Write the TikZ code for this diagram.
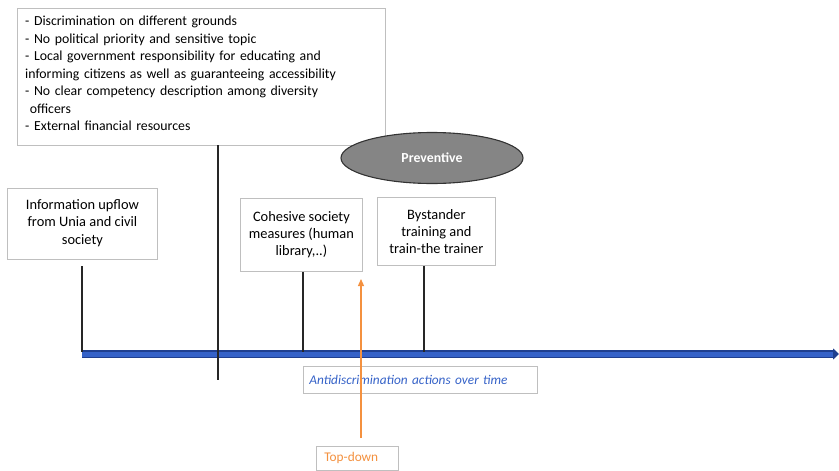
\documentclass[tikz,border=0pt]{standalone}
\usepackage{fontspec}
\setmainfont{Carlito}
\usetikzlibrary{arrows.meta,shapes.geometric}
\definecolor{boxgray}{HTML}{BFBFBF}
\definecolor{axisblue}{HTML}{3562C8}
\definecolor{axisdark}{HTML}{1F3F8F}
\definecolor{topdown}{HTML}{F4913F}
\definecolor{ovalfill}{HTML}{858585}
\begin{document}
\begin{tikzpicture}[x=1pt,y=-1pt,
  txtbox/.style={draw=boxgray,line width=0.8pt,fill=white,inner sep=0pt,align=center,font=\fontsize{14.4}{17.2}\selectfont},
  stem/.style={draw=black!85,line width=1.1pt}]
\useasboundingbox (0,0) rectangle (839,471);

% problem list
\draw[boxgray,line width=0.8pt,fill=white] (17,8) rectangle (385,145);
\node[anchor=north west,inner sep=0pt,align=left,text width=360,
  font=\fontsize{13.8}{17.5}\selectfont] (issues) at (25,16)
{- Discrimination on different grounds\\
- No political priority and sensitive topic\\
- Local government responsibility for educating and\\
informing citizens as well as guaranteeing accessibility\\
- No clear competency description among diversity\\
\ officers\\
- External financial resources};
\coordinate (issuesbot) at (218,145);

% time axis
\coordinate (axs) at (82,354);
\coordinate (axe) at (839,354);
\draw[axisdark,line width=7.5pt,-{Triangle[length=6pt,width=11pt]}] (axs) -- (axe);
\draw[axisblue,line width=5pt,shorten >=6pt] (axs) -- (axe);

% action boxes
\node[txtbox,anchor=north west,minimum width=150,minimum height=71,text depth=4pt] (info) at (7,188)
{Information upflow\\from Unia and civil\\society};
\node[txtbox,anchor=north west,minimum width=122,minimum height=73] (cohes) at (240,198)
{Cohesive society\\measures (human\\library,..)};
\node[txtbox,anchor=north west,minimum width=118,minimum height=68] (bystand) at (377,197)
{Bystander\\training and\\train-the trainer};

\node[ellipse,draw=black!80,line width=1.1pt,fill=ovalfill,minimum width=182,minimum height=51,
  text=white,font=\fontsize{13.8}{15}\selectfont\bfseries] (prev) at (432,158) {Preventive};

% stems down to the axis
\draw[stem] (issuesbot) -- (218,380);
\draw[stem] (82,266) -- (82,352);
\draw[stem] (cohes.south -| 303,0) -- (303,352);
\draw[stem] (bystand.south -| 424,0) -- (424,352);

% axis caption
\node[txtbox,anchor=north west,minimum width=234,minimum height=27,align=left,text width=222,
  text=axisblue,font=\fontsize{13.3}{15}\selectfont\itshape] (caption) at (303,366)
{Antidiscrimination actions over time};

% top-down
\node[txtbox,anchor=north west,minimum width=82,minimum height=24,align=left,text width=66,
  text=topdown,font=\fontsize{13.3}{15}\selectfont] (top) at (316,446) {Top-down};
\coordinate (tdtip) at (361,279);
\draw[topdown,line width=1.2pt,-{Triangle[length=7pt,width=6pt]}] (361,438) -- (tdtip);
\end{tikzpicture}
\end{document}
